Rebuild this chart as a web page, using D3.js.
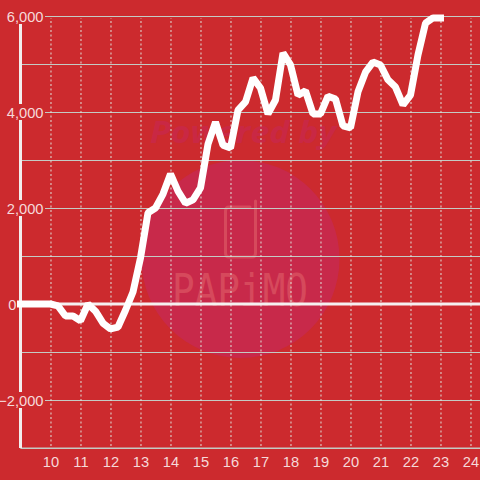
<!DOCTYPE html>
<html>
<head>
<meta charset="utf-8">
<script src="https://cdn.jsdelivr.net/npm/d3@7"></script>
<style>
html, body { margin: 0; padding: 0; background: #cc2a2e; }
svg { display: block; }
text { font-family: "Liberation Sans", Arial, sans-serif; }
</style>
</head>
<body>
<div id="graf"></div>
<script>
const hours = [9, 9.25, 9.5, 9.75, 10, 10.25, 10.5, 10.75, 11, 11.25, 11.5, 11.75, 12, 12.25, 12.5, 12.75,
  13, 13.25, 13.5, 13.75, 14, 14.25, 14.5, 14.75, 15, 15.25, 15.5, 15.75, 16, 16.25, 16.5, 16.75,
  17, 17.25, 17.5, 17.75, 18, 18.25, 18.5, 18.75, 19, 19.25, 19.5, 19.75, 20, 20.25, 20.5, 20.75,
  21, 21.25, 21.5, 21.75, 22, 22.25, 22.5, 22.75, 23]
const values = [0, 0, 0, 0, 0, -40, -250, -250, -350, 0, -150, -400, -520, -480, -130, 250,
  960, 1900, 2000, 2290, 2710, 2350, 2100, 2170, 2420, 3330, 3790, 3310, 3250, 4040, 4210, 4710,
  4500, 3960, 4250, 5230, 4980, 4350, 4440, 3960, 3960, 4330, 4270, 3710, 3670, 4420, 4830, 5040,
  4980, 4670, 4520, 4150, 4350, 5190, 5850, 5960, 5960]
const xTicks = [10, 11, 12, 13, 14, 15, 16, 17, 18, 19, 20, 21, 22, 23, 24]
const yTicks = [-3000, -2000, -1000, 0, 1000, 2000, 3000, 4000, 5000, 6000]
const yLabels = [-2000, 0, 2000, 4000, 6000]

const anchoTotal = 480
const altoTotal = 480
const margins = { top: 16, right: 0, bottom: 32, left: 20.5 }

const svg = d3.select("#graf").append("svg").attr("width", anchoTotal).attr("height", altoTotal)

const x = d3.scaleLinear().domain([9, 24.317]).range([margins.left, anchoTotal])
const y = d3.scaleLinear().domain([-3000, 6000]).range([altoTotal - margins.bottom, margins.top])

// watermark
const mark = svg.append("g")
mark.append("circle").attr("cx", 240.5).attr("cy", 259).attr("r", 99).attr("fill", "#c8294a")
mark.append("text").attr("x", 150).attr("y", 143).attr("textLength", 186).attr("lengthAdjust", "spacingAndGlyphs")
  .style("font-family", "'Open Sans'").style("font-weight", 700).style("font-style", "italic").style("font-size", "30px")
  .attr("fill", "#c92844").text("Powered by")
mark.append("path").attr("d", "M250 207H229Q225.500 207 225.500 211V253Q225.500 257 229 257H252Q255.500 257 255.500 253V201")
  .attr("fill", "none").attr("stroke", "#d6495c").attr("stroke-width", 3).attr("stroke-linecap", "round")
mark.append("text").attr("x", 172).attr("y", 306).attr("textLength", 136).attr("lengthAdjust", "spacingAndGlyphs")
  .style("font-family", "'DejaVu Sans Mono'").style("font-size", "44px").attr("fill", "#d6495c").text("PAPiMO")

// rejilla horizontal
const yAxis = d3.axisLeft(y).tickValues(yTicks).tickSize(-(anchoTotal - margins.left)).tickFormat("")
svg.append("g").attr("transform", `translate(${margins.left},0)`).call(yAxis)
  .call(g => g.select(".domain").remove())
  .call(g => g.selectAll("line").attr("stroke", "#c4cac4").attr("stroke-width", 1))

// rejilla vertical
const xGrid = d3.axisBottom(x).tickValues(xTicks).tickSize(-(y(-3000) - y(6000) - 4)).tickFormat("")
svg.append("g").attr("transform", `translate(0,${y(-3000) - 2})`).call(xGrid)
  .call(g => g.select(".domain").remove())
  .call(g => g.selectAll("line").attr("stroke", "#dfe3dc").attr("stroke-width", 1).attr("stroke-dasharray", "2 2.500"))

// ejes
svg.append("line").attr("x1", margins.left).attr("x2", anchoTotal).attr("y1", y(-3000)).attr("y2", y(-3000))
  .attr("stroke", "#c4cac4")
svg.append("line").attr("x1", margins.left).attr("x2", margins.left).attr("y1", y(6000)).attr("y2", y(-3000))
  .attr("stroke", "#f2eeee").attr("stroke-width", 3)
svg.append("line").attr("x1", margins.left).attr("x2", anchoTotal).attr("y1", y(0)).attr("y2", y(0))
  .attr("stroke", "#f5f0f0").attr("stroke-width", 3)

// etiquetas
const labelY = svg.append("g").selectAll("g").data(yLabels).enter().append("g")
labelY.filter(d => d !== 0).append("rect").attr("x", 0).attr("width", 45).attr("y", d => y(d) - 8).attr("height", 16).attr("fill", "#cc2a2e")
labelY.append("text").attr("x", d => d === 0 ? 16.500 : 43.500).attr("y", d => y(d) + 5.500).attr("text-anchor", "end")
  .style("font-size", "14.7px").attr("fill", "#f6d9d9").text(d => d3.format(",")(d))

svg.append("g").selectAll("text").data(xTicks).enter().append("text")
  .attr("x", d => x(d) + 0.500).attr("y", 467).attr("text-anchor", "middle")
  .style("font-size", "14.7px").attr("fill", "#f6d9d9").text(d => d)

// serie
const line = d3.line().x((d, i) => x(hours[i])).y(d => y(d))
svg.append("path").datum(values).attr("d", line).attr("fill", "none")
  .attr("stroke", "#ffffff").attr("stroke-width", 7).attr("stroke-linecap", "square").attr("stroke-linejoin", "bevel")
</script>
</body>
</html>
